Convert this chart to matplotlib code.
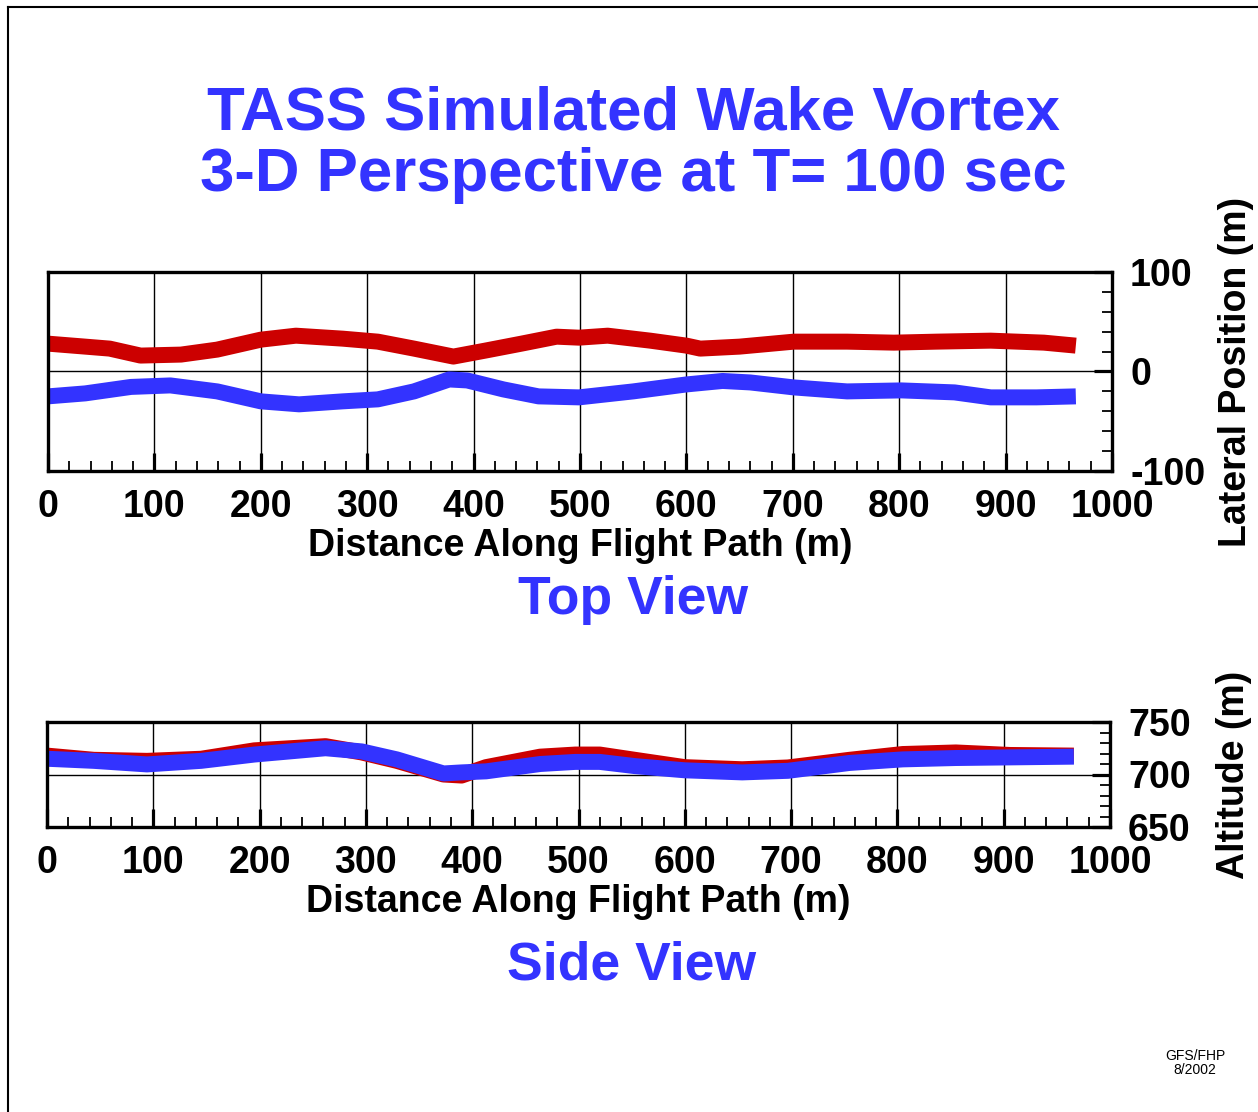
import matplotlib.pyplot as plt
from matplotlib.lines import Line2D
from matplotlib.ticker import MultipleLocator

# Top view: lateral position (m) along flight path (m)
top_red_x = [0, 35, 58, 87, 125, 159, 200, 233, 277, 310, 344, 381, 411, 445, 478,
             499, 526, 566, 600, 613, 650, 701, 751, 795, 835, 886, 936, 966]
top_red_y = [28, 25, 23, 16, 17, 22, 32, 36, 33, 30, 23, 15, 21, 28, 35,
             34, 36, 31, 26, 23, 25, 30, 30, 29, 30, 31, 29, 26]
top_blue_x = [0, 35, 78, 115, 159, 200, 236, 277, 310, 344, 377, 394, 428, 461,
              499, 550, 600, 634, 660, 701, 751, 802, 852, 886, 929, 966]
top_blue_y = [-25, -22, -15.5, -14, -20, -30, -33, -30, -28, -20, -8, -9, -18, -25,
              -26, -20, -13, -9.5, -11, -16, -20, -19, -21, -26, -26, -25]

# Side view: altitude (m) along flight path (m)
side_x = [0, 44, 94, 145, 195, 262, 296, 329, 373, 390, 413, 464, 497, 520,
          553, 600, 654, 697, 755, 805, 855, 906, 966]
side_red = [718, 714, 713, 715, 723, 727, 721, 713, 700, 699, 707, 717, 719, 719,
            714, 707, 705, 706.7, 714, 719.5, 721, 718.6, 718]
side_blue = [715, 713, 709.6, 713, 719, 725, 722, 714.4, 701, 702, 703, 710, 712, 712,
             708, 704, 702, 703.5, 711, 714.4, 715.7, 716.3, 717]

RED = '#cc0000'
BLUE = '#3333ff'
W, H = 1258, 1112

plt.rcParams['font.family'] = ['Liberation Sans', 'DejaVu Sans']
plt.rcParams['font.weight'] = 'bold'
plt.rcParams['axes.labelweight'] = 'bold'
plt.rcParams['axes.unicode_minus'] = False

fig = plt.figure(figsize=(W / 100, H / 100), dpi=100)


def style_axes(ax, ylim, ymajor, yminor, ylabel, label_x):
    ax.set_xlim(0, 1000)
    ax.set_ylim(*ylim)
    ax.xaxis.set_major_locator(MultipleLocator(100))
    ax.xaxis.set_minor_locator(MultipleLocator(20))
    ax.yaxis.set_major_locator(MultipleLocator(ymajor))
    ax.yaxis.set_minor_locator(MultipleLocator(yminor))
    ax.yaxis.tick_right()
    ax.yaxis.set_label_position('right')
    ax.tick_params(which='both', direction='in', top=False, left=False,
                   bottom=True, right=True, labelsize=27, pad=13)
    ax.tick_params(which='major', length=13, width=2.3)
    ax.tick_params(which='minor', length=7, width=1.3)
    for s in ax.spines.values():
        s.set_linewidth(2.4)
    ax.grid(True, which='major', color='black', linewidth=1)
    ax.set_xlabel('Distance Along Flight Path (m)', fontsize=27, labelpad=2)
    ax.set_ylabel(ylabel, fontsize=27)
    ax.yaxis.set_label_coords(label_x, 0.5)


# 상단: Top View
ax1 = fig.add_axes([48 / W, 1 - 471 / H, 1064 / W, 199 / H])
ax1.plot(top_red_x, top_red_y, color=RED, linewidth=11.5, solid_capstyle='butt')
ax1.plot(top_blue_x, top_blue_y, color=BLUE, linewidth=11.5, solid_capstyle='butt')
style_axes(ax1, (-100, 100), 100, 20, 'Lateral Position (m)', (1218 - 48) / 1064)

# 하단: Side View
ax2 = fig.add_axes([47 / W, 1 - 827 / H, 1063 / W, 105 / H])
ax2.plot(side_x, side_red, color=RED, linewidth=11.5, solid_capstyle='butt')
ax2.plot(side_x, side_blue, color=BLUE, linewidth=11.5, solid_capstyle='butt')
style_axes(ax2, (650, 750), 50, 10, 'Altitude (m)', (1216 - 47) / 1063)

# 제목 및 라벨
fig.text(634 / W, 1 - 114 / H, 'TASS Simulated Wake Vortex', color=BLUE,
         fontsize=44.5, ha='center', va='center')
fig.text(633 / W, 1 - 175 / H, '3-D Perspective at T= 100 sec', color=BLUE,
         fontsize=44.5, ha='center', va='center')
fig.text(633 / W, 1 - 600 / H, 'Top View', color=BLUE, fontsize=38.5,
         ha='center', va='center')
fig.text(632 / W, 1 - 966 / H, 'Side View', color=BLUE, fontsize=38.5,
         ha='center', va='center')
fig.text(1195 / W, 1 - 1063 / H, 'GFS/FHP\n8/2002', fontsize=10,
         fontweight='normal', ha='center', va='center', linespacing=1.0)

# 테두리 (왼쪽, 위)
fig.add_artist(Line2D([8 / W, 8 / W], [0, 1 - 7 / H], transform=fig.transFigure,
                      color='black', linewidth=1.5))
fig.add_artist(Line2D([8 / W, 1], [1 - 7 / H, 1 - 7 / H], transform=fig.transFigure,
                      color='black', linewidth=1.5))

fig.savefig('out.png', dpi=100)
